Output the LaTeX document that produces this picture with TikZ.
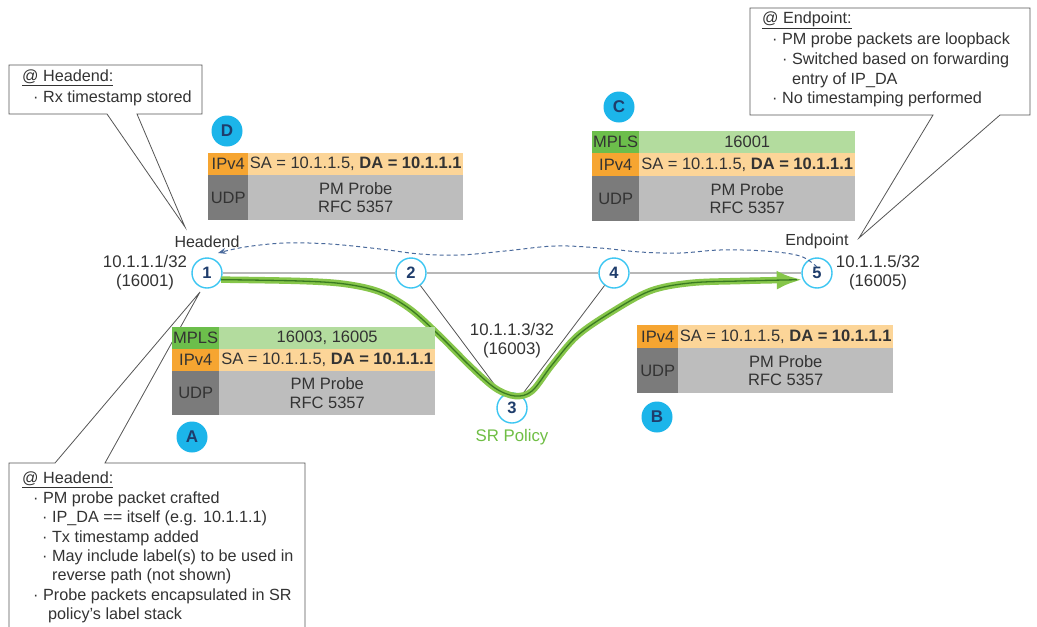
\documentclass[tikz,border=0pt]{standalone}
\usepackage{fontspec}
\setmainfont{Liberation Sans}
\usetikzlibrary{arrows.meta,calc}
\definecolor{cyanring}{HTML}{3CC6F2}
\definecolor{cyanfill}{HTML}{1CB5EA}
\definecolor{navy}{HTML}{1F3D6C}
\definecolor{orgdark}{HTML}{F6A531}
\definecolor{orglight}{HTML}{FCD598}
\definecolor{grndark}{HTML}{6CBE4B}
\definecolor{grnlight}{HTML}{B3DC9E}
\definecolor{udpdark}{HTML}{7B7B7B}
\definecolor{udplight}{HTML}{BDBDBD}
\definecolor{txt}{HTML}{333333}
\definecolor{pathgreen}{HTML}{86C64A}
\definecolor{pathcore}{HTML}{3A7A22}
\definecolor{dashblue}{HTML}{4A6A9C}
\definecolor{linegray}{HTML}{B8B8B8}
\definecolor{thingray}{HTML}{555555}
\definecolor{srgreen}{HTML}{6FBE44}
\tikzset{
  router/.style={circle, draw=cyanring, line width=1.4pt, fill=white, minimum size=30pt, inner sep=0pt, font=\fontsize{16.5}{16.5}\selectfont\bfseries, text=navy},
  letter/.style={circle, fill=cyanfill, minimum size=31pt, inner sep=0pt, font=\fontsize{17}{17}\selectfont\bfseries, text=navy},
  cell/.style={draw=none, inner sep=0pt, anchor=north west, font=\fontsize{16.5}{18.5}\selectfont, text=txt, align=center},
  lbl/.style={inner sep=0pt, font=\fontsize{16.8}{19}\selectfont, text=txt, align=center},
  ctext/.style={inner sep=0pt, anchor=west, font=\fontsize{16.2}{16.2}\selectfont, text=txt},
  callout/.style={draw=thingray, line width=0.8pt, fill=white, line join=miter},
  grayline/.style={draw=linegray, line width=2.5pt},
  thinline/.style={draw=thingray, line width=0.8pt},
  dashpath/.style={draw=dashblue, line width=1pt, dash pattern=on 4pt off 3pt, -{Stealth[length=8pt,width=6pt]}},
}
\begin{document}
\begin{tikzpicture}[x=1pt, y=-1pt]
\useasboundingbox (0,0) rectangle (1037,627);
\fill[white] (0,0) rectangle (1037,627);

% callouts
\coordinate (tipA) at (185,227);
\coordinate (tipB) at (859,238);
\coordinate (tipC) at (200,292);
\draw[callout] (9,65) -- (202,65) -- (202,114) -- (137,114) -- (tipA) -- (107,114) -- (9,114) -- cycle;
\draw[callout] (750,8) -- (1030,8) -- (1030,115) -- (1000,115) -- (tipB) -- (933,115) -- (750,115) -- cycle;
\draw[callout] (9,640) -- (9,463) -- (55,463) -- (tipC) -- (105,463) -- (305,463) -- (305,640);

\node[ctext] (tlh) at (22,78) {\underline{@ Headend:}};
\node[ctext] (tl1) at (33,98) {· Rx timestamp stored};

\node[ctext] (trh) at (762,20) {\underline{@ Endpoint:}};
\node[ctext] (tr1) at (772,40) {· PM probe packets are loopback};
\node[ctext] (tr2) at (782,60) {· Switched based on forwarding};
\node[ctext] (tr3) at (792,80) {entry of IP\_DA};
\node[ctext] (tr4) at (772,99) {· No timestamping performed};

\node[ctext] (blh) at (22,480) {\underline{@ Headend:}};
\node[ctext] (bl1) at (33,499) {· PM probe packet crafted};
\node[ctext] (bl2) at (42,518.5) {· IP\_DA == itself (e.g. 10.1.1.1)};
\node[ctext] (bl3) at (42,538) {· Tx timestamp added};
\node[ctext] (bl4) at (42,557) {· May include label(s) to be used in};
\node[ctext] (bl5) at (52,576) {reverse path (not shown)};
\node[ctext] (bl6) at (33,596) {· Probe packets encapsulated in SR};
\node[ctext] (bl7) at (48,615) {policy's label stack};

% routers
\node[router] (n1) at (207,273) {1};
\node[router] (n2) at (411,273) {2};
\node[router] (n4) at (614,273) {4};
\node[router] (n5) at (817,273) {5};
\node[router] (n3) at (512,408) {3};

\draw[grayline] (n1) -- (n2);
\draw[grayline] (n2) -- (n4);
\draw[grayline] (n4) -- (n5);
\draw[thinline] (n2) -- (n3);
\draw[thinline] (n4) -- (n3);

% labels
\node[lbl] (l1) at (145,273) {10.1.1.1/32\\(16001)};
\node[lbl] (l5) at (878,273) {10.1.1.5/32\\(16005)};
\node[lbl] (l3) at (512,341) {10.1.1.3/32\\(16003)};
\node[lbl, font=\fontsize{16}{16}\selectfont] (hd) at (207,242) {Headend};
\node[lbl, font=\fontsize{16}{16}\selectfont] (ep) at (817,241) {Endpoint};
\node[lbl, text=srgreen] (srp) at (512,437) {SR Policy};

% green SR policy path
\coordinate (g1) at (n1.-25);
\coordinate (g5) at (n5.205);
\draw[line width=6.5pt, pathgreen, -{Latex[length=26pt,width=19pt]}]
  plot[smooth, tension=0.55] coordinates {(g1) (300,281) (345,284) (380,292) (410,309) (440,336) (470,366) (495,388) (515,396) (532,391) (552,365) (577,336) (610,313) (650,291) (690,283) (740,281) (g5)};
\draw[line width=1.3pt, pathcore, shorten >=6pt]
  plot[smooth, tension=0.55] coordinates {(g1) (300,281) (345,284) (380,292) (410,309) (440,336) (470,366) (495,388) (515,396) (532,391) (552,365) (577,336) (610,313) (650,291) (690,283) (740,281) (g5)};

% dashed return path
\coordinate (d5) at ([shift={(0,-6)}]n5.center);
\coordinate (d1) at ([shift={(11,-20)}]n1.center);
\draw[dashpath] plot[smooth, tension=0.6] coordinates {(d5) (800,256) (765,251) (720,250) (680,253) (640,252) (600,248) (555,246) (505,251) (460,255) (420,254) (380,249) (330,244) (285,243) (245,247) (d1)};

% packet D
\node[letter] (ltD) at (227,131) {D};
\node[cell, fill=orgdark, minimum width=40pt, minimum height=22pt] (dIpL) at (208,153) {IPv4};
\node[cell, fill=orglight, minimum width=215pt, minimum height=22pt] (dIpC) at (248,153) {SA = 10.1.1.5, \textbf{DA = 10.1.1.1}};
\node[cell, fill=udpdark, minimum width=40pt, minimum height=45pt] (dUdL) at (208,175) {UDP};
\node[cell, fill=udplight, minimum width=215pt, minimum height=45pt] (dUdC) at (248,175) {PM Probe\\RFC 5357};

% packet C
\node[letter] (ltC) at (619,107) {C};
\node[cell, fill=grndark, minimum width=47pt, minimum height=22pt] (cMpL) at (592,131) {MPLS};
\node[cell, fill=grnlight, minimum width=216pt, minimum height=22pt] (cMpC) at (639,131) {16001};
\node[cell, fill=orgdark, minimum width=47pt, minimum height=23pt] (cIpL) at (592,153) {IPv4};
\node[cell, fill=orglight, minimum width=216pt, minimum height=23pt] (cIpC) at (639,153) {SA = 10.1.1.5, \textbf{DA = 10.1.1.1}};
\node[cell, fill=udpdark, minimum width=47pt, minimum height=45pt] (cUdL) at (592,176) {UDP};
\node[cell, fill=udplight, minimum width=216pt, minimum height=45pt] (cUdC) at (639,176) {PM Probe\\RFC 5357};

% packet A
\node[letter] (ltA) at (192,437) {A};
\node[cell, fill=grndark, minimum width=47pt, minimum height=22pt] (aMpL) at (172,327) {MPLS};
\node[cell, fill=grnlight, minimum width=216pt, minimum height=22pt] (aMpC) at (219,327) {16003, 16005};
\node[cell, fill=orgdark, minimum width=47pt, minimum height=22pt] (aIpL) at (172,349) {IPv4};
\node[cell, fill=orglight, minimum width=216pt, minimum height=22pt] (aIpC) at (219,349) {SA = 10.1.1.5, \textbf{DA = 10.1.1.1}};
\node[cell, fill=udpdark, minimum width=47pt, minimum height=44pt] (aUdL) at (172,371) {UDP};
\node[cell, fill=udplight, minimum width=216pt, minimum height=44pt] (aUdC) at (219,371) {PM Probe\\RFC 5357};

% packet B
\node[letter] (ltB) at (657,417) {B};
\node[cell, fill=orgdark, minimum width=41pt, minimum height=23pt] (bIpL) at (637,325) {IPv4};
\node[cell, fill=orglight, minimum width=215pt, minimum height=23pt] (bIpC) at (678,325) {SA = 10.1.1.5, \textbf{DA = 10.1.1.1}};
\node[cell, fill=udpdark, minimum width=41pt, minimum height=45pt] (bUdL) at (637,348) {UDP};
\node[cell, fill=udplight, minimum width=215pt, minimum height=45pt] (bUdC) at (678,348) {PM Probe\\RFC 5357};
\end{tikzpicture}
\end{document}
